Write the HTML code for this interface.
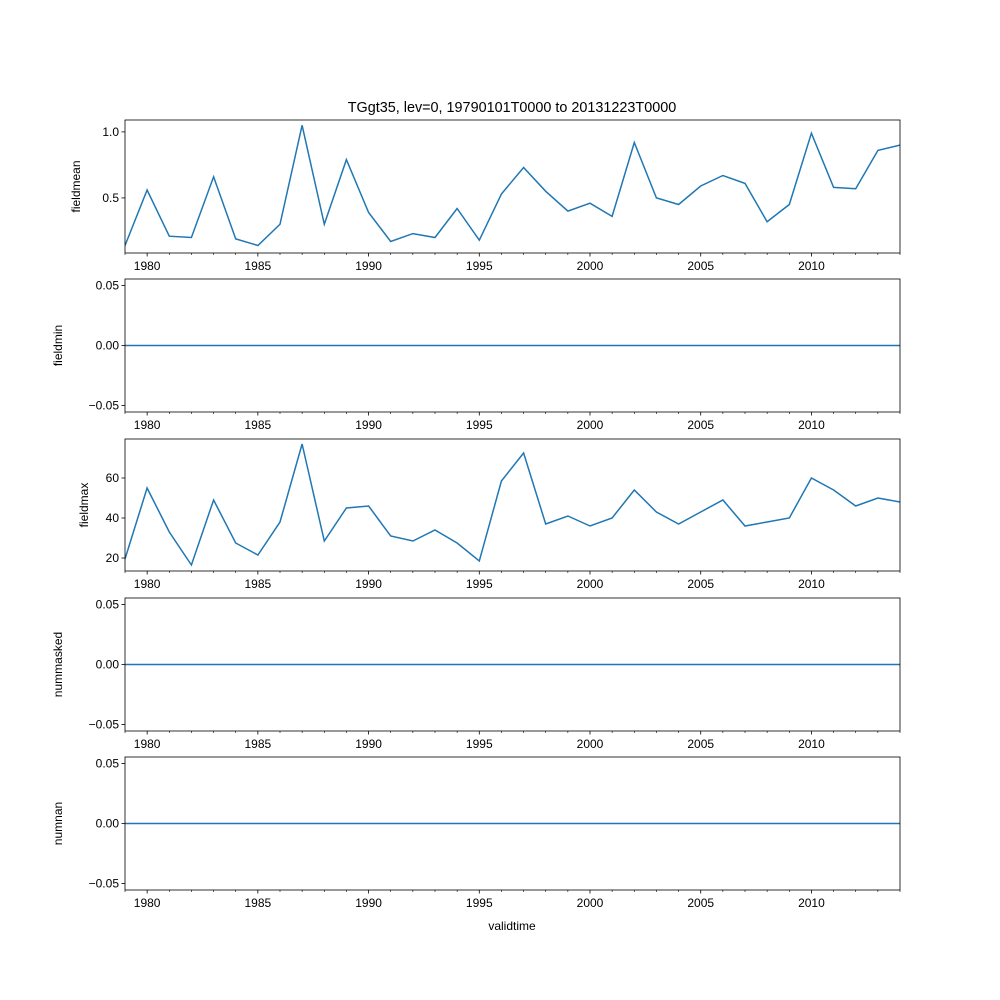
<!DOCTYPE html>
<html><head><meta charset="utf-8"><style>body{margin:0;background:#fff}svg{display:block}text{font-family:"Liberation Sans","DejaVu Sans",sans-serif;fill:#000}</style></head>
<body>
<svg id="fig" width="1000" height="1000" xmlns="http://www.w3.org/2000/svg"></svg>
<script>
const years = [1979,1980,1981,1982,1983,1984,1985,1986,1987,1988,1989,1990,1991,1992,1993,1994,1995,1996,1997,1998,1999,2000,2001,2002,2003,2004,2005,2006,2007,2008,2009,2010,2011,2012,2013,2014];
const fieldmean = [0.14,0.56,0.21,0.20,0.66,0.19,0.14,0.30,1.05,0.30,0.79,0.39,0.17,0.23,0.20,0.42,0.18,0.53,0.73,0.55,0.40,0.46,0.36,0.92,0.50,0.45,0.59,0.67,0.61,0.32,0.45,0.99,0.58,0.57,0.86,0.90];
const fieldmin = years.map(()=>0);
const fieldmax = [19.5,55,33,16.5,49,27.5,21.5,38,77,28.5,45,46,31,28.5,34,27.5,18.5,58.5,72.5,37,41,36,40,54,43,37,43,49,36,38,40,60,54,46,50,48];
const nummasked = years.map(()=>0);
const numnan = years.map(()=>0);
const xTicks = [1980,1985,1990,1995,2000,2005,2010];
const panels = [
 {name:'fieldmean',data:fieldmean,top:120,bot:253,ymin:0.083,ymax:1.09,ticks:[0.5,1.0],fmt:v=>v.toFixed(1),lx:80},
 {name:'fieldmin',data:fieldmin,top:279,bot:412,ymin:-0.0555,ymax:0.0555,ticks:[-0.05,0,0.05],fmt:v=>v.toFixed(2).replace('-','\u2212'),lx:62},
 {name:'fieldmax',data:fieldmax,top:439,bot:571,ymin:13.5,ymax:79.5,ticks:[20,40,60],fmt:v=>String(v),lx:88},
 {name:'nummasked',data:nummasked,top:598,bot:731,ymin:-0.0555,ymax:0.0555,ticks:[-0.05,0,0.05],fmt:v=>v.toFixed(2).replace('-','\u2212'),lx:62},
 {name:'numnan',data:numnan,top:757,bot:890,ymin:-0.0555,ymax:0.0555,ticks:[-0.05,0,0.05],fmt:v=>v.toFixed(2).replace('-','\u2212'),lx:62}
];
const svg=document.getElementById('fig');const NS='http://www.w3.org/2000/svg';
const L=125,R=900,X0=1979,X1=2014;
const xs=v=>L+(v-X0)/(X1-X0)*(R-L);
function mk(tag,at,parent){const e=document.createElementNS(NS,tag);for(const k in at)e.setAttribute(k,at[k]);(parent||svg).appendChild(e);return e;}
panels.forEach(p=>{
 const g=mk('g',{});
 
 
 const ys=v=>p.bot-(v-p.ymin)/(p.ymax-p.ymin)*(p.bot-p.top);
 const d=p.data.map((v,i)=>(i?'L':'M')+xs(years[i]).toFixed(1)+','+ys(v).toFixed(1)).join('');
 const cp='c'+p.name;
 const c=mk('clipPath',{id:cp},g);mk('rect',{x:L,y:p.top,width:R-L,height:p.bot-p.top},c);
 const ln=mk('path',{d:d,fill:'none',stroke:'#1f77b4','stroke-width':1.5,'clip-path':'url(#'+cp+')'},g);
 
 
 for(let y=X0;y<=X1;y++){const x=xs(y);const major=xTicks.includes(y);mk('line',{x1:x,x2:x,y1:p.bot,y2:p.bot+(major?3.5:2),stroke:'#000','stroke-width':major?0.8:0.6},g);}
 xTicks.forEach(t=>{const tx=mk('text',{x:xs(t),y:p.bot+17,'text-anchor':'middle','font-size':12},g);tx.textContent=t;
  
  });
 p.ticks.forEach(t=>{const y=ys(t);mk('line',{x1:L-3.5,x2:L,y1:y,y2:y,stroke:'#000','stroke-width':0.8},g);
  const tx=mk('text',{x:L-6,y:y+4,'text-anchor':'end','font-size':12},g);tx.textContent=p.fmt(t);
  
  });
 mk('rect',{x:L,y:p.top,width:R-L,height:p.bot-p.top,fill:'none',stroke:'#000','stroke-width':0.8},g);
 const yl=mk('text',{x:0,y:0,transform:'translate('+p.lx+','+((p.top+p.bot)/2)+') rotate(-90)','text-anchor':'middle','font-size':12},g);yl.textContent=p.name;
 
 
});
const t=mk('text',{x:512,y:112,'text-anchor':'middle','font-size':14.4});t.textContent='TGgt35, lev=0, 19790101T0000 to 20131223T0000';


const xl=mk('text',{x:512,y:930,'text-anchor':'middle','font-size':12});xl.textContent='validtime';


</script>
</body></html>
